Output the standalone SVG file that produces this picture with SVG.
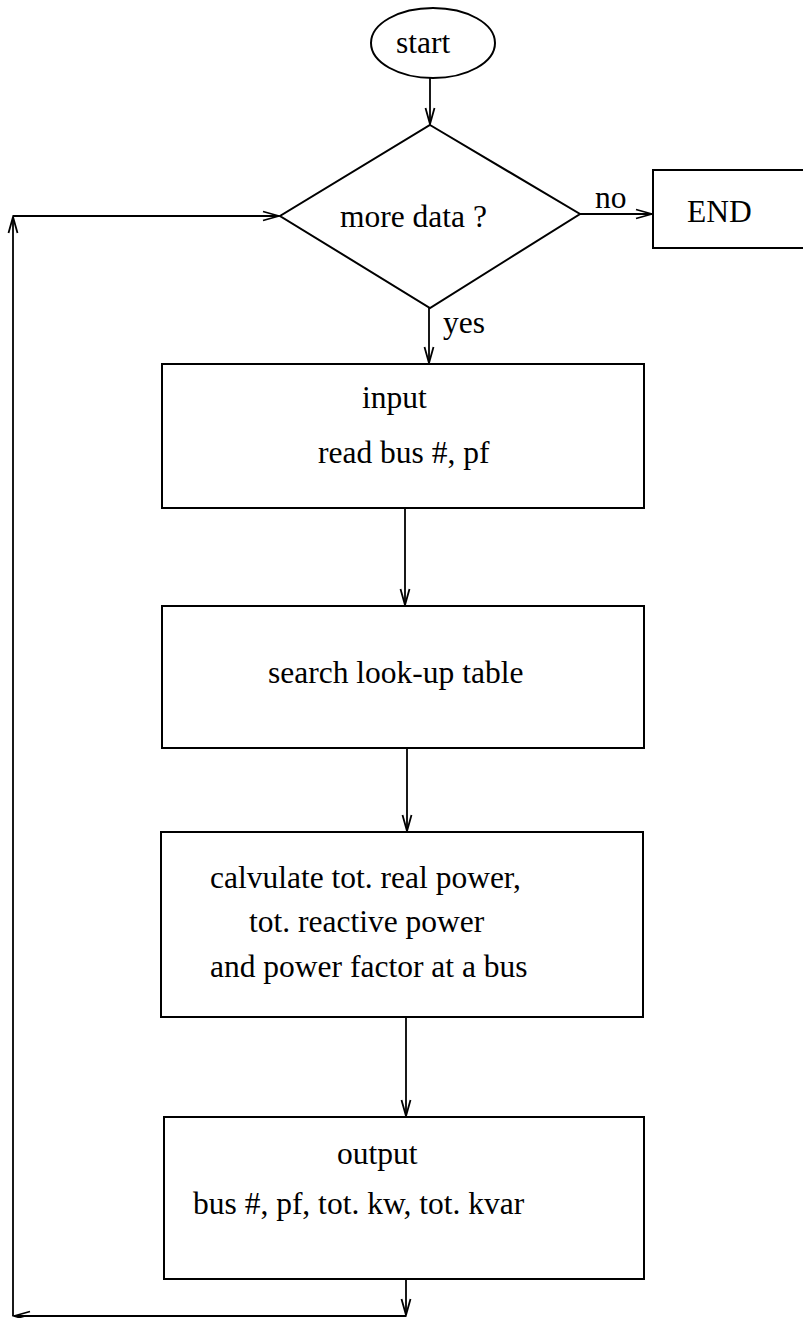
<svg xmlns="http://www.w3.org/2000/svg" width="803" height="1318" viewBox="0 0 803 1318">
<style>
.shape{fill:#fff;stroke:#000;stroke-width:2}
.conn{fill:none;stroke:#000;stroke-width:1.8}
.t{font-family:"Liberation Serif","Times New Roman",serif;font-size:31.5px;fill:#000}
</style>
<defs>
<marker id="arr" markerWidth="20" markerHeight="12" viewBox="-18 -6 20 12" refX="0" refY="0" orient="auto" markerUnits="userSpaceOnUse">
<path d="M-16,-4.5 L0,0 L-16,4.5" fill="none" stroke="#000" stroke-width="1.8"/>
</marker>
</defs>
<rect width="803" height="1318" fill="#fff"/>
<g id="start">
<ellipse class="shape" cx="433" cy="43" rx="62" ry="35"/>
<text class="t" x="396" y="53">start</text>
</g>
<g id="decision">
<polygon class="shape" points="430,125 580,214 430,308 280,216"/>
<text class="t" x="340" y="227">more data ?</text>
</g>
<g id="end">
<rect class="shape" x="653" y="170" width="155" height="78"/>
<text class="t" x="687" y="222">END</text>
</g>
<g id="input">
<rect class="shape" x="162" y="364" width="482" height="144"/>
<text class="t" x="362" y="408">input</text>
<text class="t" x="318" y="463">read bus #, pf</text>
</g>
<g id="search">
<rect class="shape" x="162" y="606" width="482" height="142"/>
<text class="t" x="268" y="683">search look-up table</text>
</g>
<g id="calculate">
<rect class="shape" x="161" y="832" width="482" height="185"/>
<text class="t" x="210" y="888">calvulate tot. real power,</text>
<text class="t" x="249" y="932">tot. reactive power</text>
<text class="t" x="210" y="977">and power factor at a bus</text>
</g>
<g id="output">
<rect class="shape" x="164" y="1117" width="480" height="162"/>
<text class="t" x="337" y="1164">output</text>
<text class="t" x="193" y="1214">bus #, pf, tot. kw, tot. kvar</text>
</g>
<g id="connectors">
<line class="conn" x1="430" y1="78" x2="430" y2="124" marker-end="url(#arr)"/>
<line class="conn" x1="429" y1="308" x2="429" y2="363" marker-end="url(#arr)"/>
<line class="conn" x1="580" y1="214" x2="652" y2="214" marker-end="url(#arr)"/>
<line class="conn" x1="405" y1="508" x2="405" y2="605" marker-end="url(#arr)"/>
<line class="conn" x1="407" y1="748" x2="407" y2="831" marker-end="url(#arr)"/>
<line class="conn" x1="406" y1="1017" x2="406" y2="1116" marker-end="url(#arr)"/>
<line class="conn" x1="406" y1="1279" x2="406" y2="1315" marker-end="url(#arr)"/>
<line class="conn" x1="406" y1="1316" x2="14" y2="1316" marker-end="url(#arr)"/>
<line class="conn" x1="13" y1="1316" x2="13" y2="217" marker-end="url(#arr)"/>
<line class="conn" x1="13" y1="216" x2="279" y2="216" marker-end="url(#arr)"/>
<text class="t" x="595" y="208">no</text>
<text class="t" x="443" y="333">yes</text>
</g>
</svg>
